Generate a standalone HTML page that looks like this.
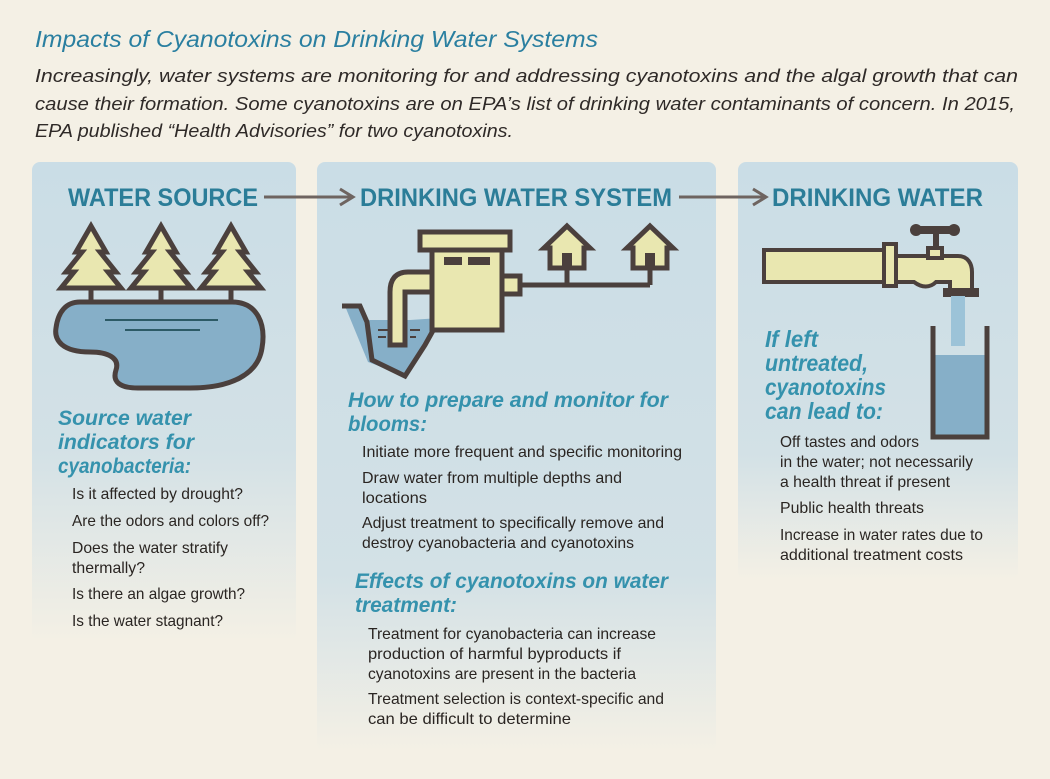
<!DOCTYPE html>
<html><head><meta charset="utf-8"><style>
html,body{margin:0;padding:0;background:#f4f0e5;}
svg{display:block;font-family:"Liberation Sans",sans-serif;}
.t{fill:#2a2522;font-size:16px;}
.h{fill:#2b7d98;font-weight:bold;font-size:25px;}
.s{fill:#3592ad;font-weight:bold;font-style:italic;font-size:21px;}
</style></head><body>
<svg width="1050" height="779" viewBox="0 0 1050 779" xmlns="http://www.w3.org/2000/svg">
<defs>
<linearGradient id="g1" x1="0" y1="162" x2="0" y2="642" gradientUnits="userSpaceOnUse"><stop offset="0" stop-color="#cadde6"/><stop offset="0.6" stop-color="#d3e1e6"/><stop offset="1" stop-color="#f4f0e5"/></linearGradient>
<linearGradient id="g2" x1="0" y1="162" x2="0" y2="752" gradientUnits="userSpaceOnUse"><stop offset="0" stop-color="#cadde6"/><stop offset="0.7" stop-color="#d3e1e6"/><stop offset="1" stop-color="#f4f0e5"/></linearGradient>
<linearGradient id="g3" x1="0" y1="162" x2="0" y2="580" gradientUnits="userSpaceOnUse"><stop offset="0" stop-color="#cadde6"/><stop offset="0.7" stop-color="#d3e1e6"/><stop offset="1" stop-color="#f4f0e5"/></linearGradient>
</defs>
<rect width="1050" height="779" fill="#f4f0e5"/>
<text x="35" y="47" font-size="23" font-style="italic" fill="#2a7fa0" textLength="563" lengthAdjust="spacingAndGlyphs">Impacts of Cyanotoxins on Drinking Water Systems</text>
<g font-size="18" font-style="italic" fill="#2f2a28">
<text x="35" y="82" textLength="983" lengthAdjust="spacingAndGlyphs">Increasingly, water systems are monitoring for and addressing cyanotoxins and the algal growth that can</text>
<text x="35" y="110" textLength="980" lengthAdjust="spacingAndGlyphs">cause their formation. Some cyanotoxins are on EPA’s list of drinking water contaminants of concern. In 2015,</text>
<text x="35" y="137" textLength="478" lengthAdjust="spacingAndGlyphs">EPA published “Health Advisories” for two cyanotoxins.</text>
</g>
<rect x="32" y="162" width="264" height="480" rx="8" fill="url(#g1)"/>
<rect x="317" y="162" width="399" height="590" rx="8" fill="url(#g2)"/>
<rect x="738" y="162" width="280" height="418" rx="8" fill="url(#g3)"/>
<text class="h" x="68" y="206" textLength="190" lengthAdjust="spacingAndGlyphs">WATER SOURCE</text>
<text class="h" x="360" y="206" textLength="312" lengthAdjust="spacingAndGlyphs">DRINKING WATER SYSTEM</text>
<text class="h" x="772" y="206" textLength="211" lengthAdjust="spacingAndGlyphs">DRINKING WATER</text>
<g stroke="#6e6460" stroke-width="3" fill="none">
<path d="M264 197H352M340 189L353 197L340 205"/>
<path d="M679 197H765M753 189L766 197L753 205"/>
</g>
<g stroke="#4b403d" stroke-width="5" stroke-linejoin="miter" fill="#e9e7b0">
<g id="tr"><path d="M91 226L106 252L100 252L116 272L108 272L121 288L61 288L74 272L66 272L82 252L76 252Z"/><path d="M91 288V301" fill="none"/></g>
<use href="#tr" x="70"/><use href="#tr" x="140"/>
</g>
<path d="M80 302H232C258 302 266 325 262 348C258 375 230 388 190 388H138C120 388 112 382 116 370C120 358 108 352 90 352C62 352 54 340 56 328C58 312 66 302 80 302Z" fill="#86afc8" stroke="#4b403d" stroke-width="5"/>
<path d="M105 320H218M125 330H200" stroke="#2c5a66" stroke-width="2"/>
<g stroke="#4b403d" stroke-width="5" fill="#e9e7b0">
<path d="M345 306H360L368 320H410L440 318L405 376L368 362Z" fill="#86afc8" stroke="none"/>
<path d="M342 306H360L367 322L372 360L405 376L425 345L440 318L470 300" fill="none"/>
<path d="M432 272H408C395 272 390 280 390 292V345H405V292H432Z"/>
<rect x="432" y="250" width="70" height="80"/>
<rect x="420" y="232" width="90" height="18"/>
<rect x="502" y="276" width="18" height="18"/>
<path d="M520 285H650M567 268V285M650 268V285" fill="none"/>
<path d="M567 226L590 248H584V268H550V248H544Z"/>
<path d="M650 226L673 248H667V268H633V248H627Z"/>
</g>
<rect x="444" y="257" width="18" height="8" fill="#4b403d"/><rect x="468" y="257" width="22" height="8" fill="#4b403d"/>
<rect x="562" y="253" width="10" height="15" fill="#4b403d"/><rect x="645" y="253" width="10" height="15" fill="#4b403d"/>
<path d="M378 330H388M378 337H386M410 330H420M410 337H416" stroke="#4b403d" stroke-width="2"/>
<g stroke="#4b403d" stroke-width="4" fill="#e9e7b0">
<rect x="764" y="250" width="121" height="32"/>
<rect x="884" y="244" width="12" height="42"/>
<path d="M896 256H958C968 256 972 264 972 272V290H950V282H936C930 288 922 288 914 282H896Z"/>
<path d="M945 290H977V295H945Z" fill="#4b403d"/>
<rect x="928" y="248" width="14" height="10"/>
</g>
<rect x="933" y="232" width="6" height="16" fill="#4b403d"/>
<rect x="914" y="226" width="42" height="8" rx="4" fill="#4b403d"/>
<circle cx="916" cy="230" r="6" fill="#4b403d"/><circle cx="954" cy="230" r="6" fill="#4b403d"/>
<rect x="951" y="296" width="14" height="50" fill="#9cc3d8"/>
<rect x="935" y="355" width="50" height="80" fill="#86afc8"/>
<path d="M933 326V437H987V326" fill="none" stroke="#4b403d" stroke-width="5"/>
<text class="s" x="58" y="425" textLength="133" lengthAdjust="spacingAndGlyphs">Source water</text>
<text class="s" x="58" y="449" textLength="136" lengthAdjust="spacingAndGlyphs">indicators for</text>
<text class="s" x="58" y="473" textLength="133" lengthAdjust="spacingAndGlyphs">cyanobacteria:</text>
<text class="t" x="72" y="499" textLength="171" lengthAdjust="spacingAndGlyphs">Is it affected by drought?</text>
<text class="t" x="72" y="526" textLength="197" lengthAdjust="spacingAndGlyphs">Are the odors and colors off?</text>
<text class="t" x="72" y="553" textLength="156" lengthAdjust="spacingAndGlyphs">Does the water stratify</text>
<text class="t" x="72" y="573" textLength="73" lengthAdjust="spacingAndGlyphs">thermally?</text>
<text class="t" x="72" y="599" textLength="173" lengthAdjust="spacingAndGlyphs">Is there an algae growth?</text>
<text class="t" x="72" y="626" textLength="151" lengthAdjust="spacingAndGlyphs">Is the water stagnant?</text>
<text class="s" x="348" y="407" textLength="320" lengthAdjust="spacingAndGlyphs">How to prepare and monitor for</text>
<text class="s" x="348" y="431" textLength="79" lengthAdjust="spacingAndGlyphs">blooms:</text>
<text class="t" x="362" y="457" textLength="320" lengthAdjust="spacingAndGlyphs">Initiate more frequent and specific monitoring</text>
<text class="t" x="362" y="483" textLength="260" lengthAdjust="spacingAndGlyphs">Draw water from multiple depths and</text>
<text class="t" x="362" y="503" textLength="65" lengthAdjust="spacingAndGlyphs">locations</text>
<text class="t" x="362" y="528" textLength="302" lengthAdjust="spacingAndGlyphs">Adjust treatment to specifically remove and</text>
<text class="t" x="362" y="548" textLength="272" lengthAdjust="spacingAndGlyphs">destroy cyanobacteria and cyanotoxins</text>
<text class="s" x="355" y="588" textLength="313" lengthAdjust="spacingAndGlyphs">Effects of cyanotoxins on water</text>
<text class="s" x="355" y="612" textLength="102" lengthAdjust="spacingAndGlyphs">treatment:</text>
<text class="t" x="368" y="639" textLength="288" lengthAdjust="spacingAndGlyphs">Treatment for cyanobacteria can increase</text>
<text class="t" x="368" y="659" textLength="253" lengthAdjust="spacingAndGlyphs">production of harmful byproducts if</text>
<text class="t" x="368" y="679" textLength="268" lengthAdjust="spacingAndGlyphs">cyanotoxins are present in the bacteria</text>
<text class="t" x="368" y="704" textLength="296" lengthAdjust="spacingAndGlyphs">Treatment selection is context-specific and</text>
<text class="t" x="368" y="724" textLength="203" lengthAdjust="spacingAndGlyphs">can be difficult to determine</text>
<text class="s" x="765" y="347" textLength="53" lengthAdjust="spacingAndGlyphs" style="font-size:23px">If left</text>
<text class="s" x="765" y="371" textLength="103" lengthAdjust="spacingAndGlyphs" style="font-size:23px">untreated,</text>
<text class="s" x="765" y="395" textLength="121" lengthAdjust="spacingAndGlyphs" style="font-size:23px">cyanotoxins</text>
<text class="s" x="765" y="419" textLength="118" lengthAdjust="spacingAndGlyphs" style="font-size:23px">can lead to:</text>
<text class="t" x="780" y="447" textLength="139" lengthAdjust="spacingAndGlyphs">Off tastes and odors</text>
<text class="t" x="780" y="467" textLength="193" lengthAdjust="spacingAndGlyphs">in the water; not necessarily</text>
<text class="t" x="780" y="487" textLength="170" lengthAdjust="spacingAndGlyphs">a health threat if present</text>
<text class="t" x="780" y="513" textLength="144" lengthAdjust="spacingAndGlyphs">Public health threats</text>
<text class="t" x="780" y="540" textLength="203" lengthAdjust="spacingAndGlyphs">Increase in water rates due to</text>
<text class="t" x="780" y="560" textLength="183" lengthAdjust="spacingAndGlyphs">additional treatment costs</text>
</svg>
</body></html>
